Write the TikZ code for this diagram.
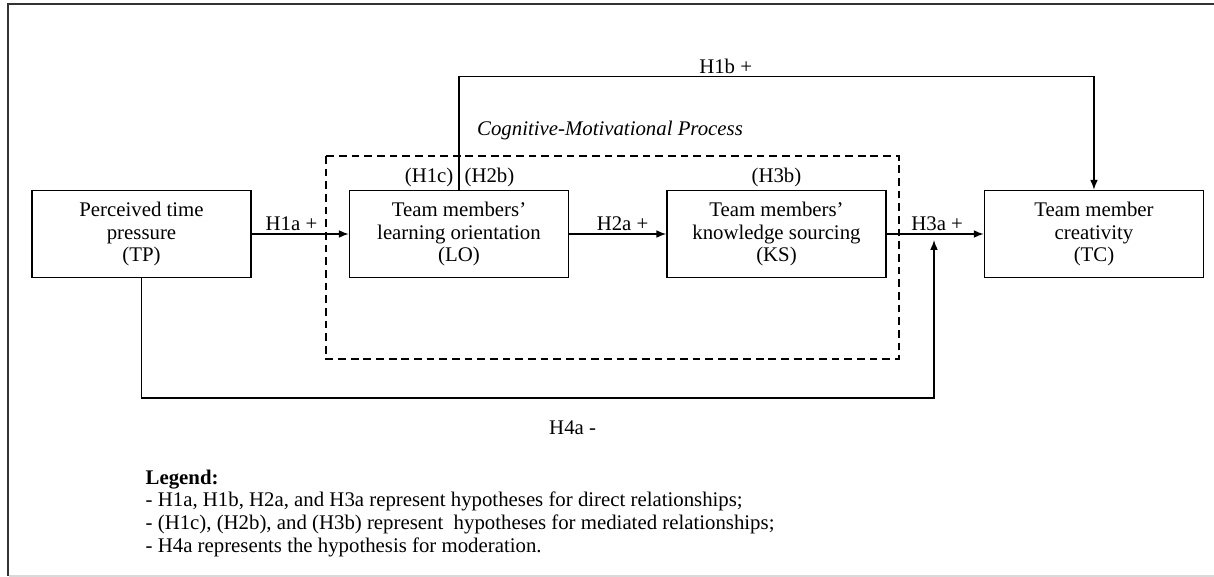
\documentclass[tikz,border=0pt]{standalone}
\usepackage{fontspec}
\setmainfont{Liberation Serif}
\usetikzlibrary{positioning,arrows.meta}

\begin{document}
\begin{tikzpicture}[x=0.025cm, y=-0.025cm, line width=1pt, node distance=2.425cm,
	>={Latex[length=7pt, width=5.5pt]},
	var/.style={draw, minimum width=5.475cm, minimum height=2.175cm, align=center, inner sep=1pt, font=\fontsize{14.8}{15.65}\selectfont},
	lab/.style={inner sep=1.5pt, font=\fontsize{14.8}{15.65}\selectfont}]
	\useasboundingbox (0,0) rectangle (1214,577);
	\draw[line width=1.3pt, black!80] (1214,4) -- (8,4) -- (8,576);
	\draw[line width=1pt, gray!30] (9,576) -- (1214,576);

	\node[var] (tp) at (141.5,234) {Perceived time\\pressure\\(TP)};
	\node[var, right=of tp] (lo) {Team members'\\learning orientation\\(LO)};
	\node[var, right=of lo] (ks) {Team members'\\knowledge sourcing\\(KS)};
	\node[var, right=of ks] (tc) {Team member\\creativity\\(TC)};

	% process box
	\draw[dash pattern=on 5.5pt off 3.5pt] (326,156) rectangle (899,359);
	\node[lab, font=\fontsize{14.8}{15.65}\selectfont\itshape] (cmp) at (610,130) {Cognitive-Motivational Process};

	\node[lab, anchor=south east] (h1c) at ([xshift=-2pt]lo.north) {(H1c)};
	\node[lab, anchor=south west] (h2b) at ([xshift=2pt]lo.north) {(H2b)};
	\node[lab, anchor=south] (h3b) at (ks.north) {(H3b)};

	\draw[->] (tp) -- node[lab, pos=0.41, above] {H1a +} (lo);
	\draw[->] (lo) -- node[lab, pos=0.55, above] {H2a +} (ks);
	\draw[->] (ks) -- node[lab, pos=0.52, above] {H3a +} (tc);
	\draw[->] (lo.north) -- ++(0,-113) -| node[lab, pos=0.21, above] {H1b +} (tc.north);

	\coordinate (mod) at (934,240);
	\coordinate (bend) at (934,398);
	\draw[->] (tp.south) |- node[lab, pos=0.772, below=14pt] {H4a -} (bend) -- (mod);

	\node[anchor=north west, align=left, inner sep=0pt, font=\fontsize{14.8}{16.1}\selectfont] (legend) at (145,469)
		{\textbf{Legend:}\\
		- H1a, H1b, H2a, and H3a represent hypotheses for direct relationships;\\
		- (H1c), (H2b), and (H3b) represent~ hypotheses for mediated relationships;\\
		- H4a represents the hypothesis for moderation.};
\end{tikzpicture}
\end{document}
